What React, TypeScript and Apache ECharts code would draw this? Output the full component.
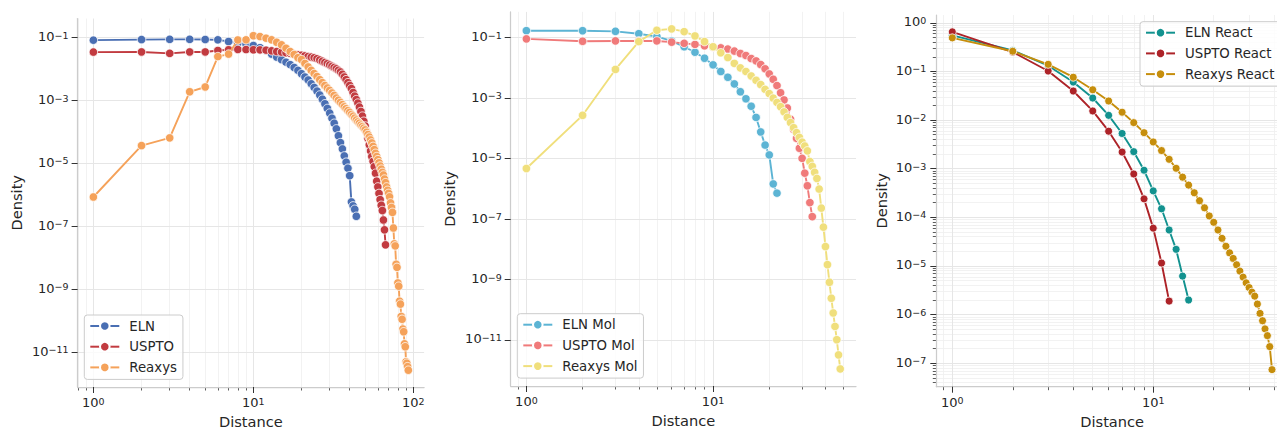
import React, { useEffect, useRef } from "react";
import * as echarts from "echarts";

const FONT = "DejaVu Sans";
const TXT = "#262626";
const SPINE = "#cccccc";
const TICK = "#333333";
const GRID_MAJ = "#e6e6e6";
const GRID_MIN = "#efefef";

// distances (x values) shared by all series: each series uses its first n entries
const DISTANCE = [
  1, 2, 3, 4, 5, 6, 7, 8, 9, 10, 11, 12, 13, 14, 15, 16, 17, 18, 19, 20,
  21, 22, 23, 24, 25, 26, 27, 28, 29, 30, 31, 32, 33, 34, 35, 36, 37, 38, 39, 40,
  41, 42, 43, 44, 45, 46, 47, 48, 49, 50, 51, 52, 53, 54, 55, 56, 57, 58, 59, 60,
  61, 62, 63, 64, 65, 66, 67, 68, 69, 70, 71, 72, 73, 74, 75, 76, 77, 78, 79, 80,
  81, 82, 83, 84, 85, 86, 87, 88, 89, 90, 91, 92, 93,
];

// ---- Panel 1 ----
const ELN = [
  0.083, 0.0865, 0.088, 0.088, 0.087, 0.085, 0.075, 0.067, 0.062, 0.056,
  0.048, 0.039, 0.030, 0.024, 0.020, 0.0166, 0.0138, 0.0112, 0.0091, 0.0071,
  0.0056, 0.0045, 0.0034, 0.0026, 0.0020, 0.0015, 0.0011, 7.9e-4, 5.6e-4, 4.0e-4,
  2.75e-4, 1.9e-4, 1.26e-4, 7.6e-5, 4.6e-5, 2.9e-5, 1.74e-5, 1.1e-5, 7.1e-6, 4.1e-6,
  6.0e-7, 4.5e-7, 3.5e-7, 2.1e-7,
];
const USPTO = [
  0.0347, 0.035, 0.0316, 0.035, 0.035, 0.039, 0.041, 0.042, 0.0417, 0.041,
  0.0407, 0.040, 0.038, 0.036, 0.0347, 0.033, 0.0316, 0.030, 0.0288, 0.0275,
  0.0263, 0.0251, 0.024, 0.0229, 0.0214, 0.0195, 0.0178, 0.0162, 0.0148, 0.0135,
  0.0123, 0.0112, 0.0102, 0.0091, 0.0081, 0.0068, 0.0056, 0.0046, 0.0037, 0.0030,
  0.0024, 0.0018, 0.00138, 0.00107, 8.3e-4, 6.2e-4, 4.5e-4, 3.2e-4, 2.2e-4, 1.55e-4,
  1.02e-4, 6.3e-5, 3.9e-5, 2.5e-5, 1.66e-5, 1.17e-5, 7.9e-6, 4.9e-6, 2.75e-6, 1.8e-6,
  1.12e-6, 7.1e-7, 4.7e-7, 3.2e-7, 1.6e-7, 7.8e-8, 2.6e-8,
];
const REAXYS = [
  8.6e-7, 3.7e-5, 6.5e-5, 0.0019, 0.0027, 0.025, 0.030, 0.084, 0.085, 0.115,
  0.108, 0.096, 0.085, 0.071, 0.059, 0.046, 0.036, 0.029, 0.023, 0.020,
  0.0151, 0.0117, 0.0091, 0.0072, 0.0058, 0.0046, 0.0037, 0.0030, 0.0025, 0.0021,
  0.00174, 0.00145, 0.0012, 0.00102, 8.7e-4, 7.4e-4, 6.3e-4, 5.5e-4, 4.8e-4, 4.2e-4,
  3.6e-4, 3.2e-4, 2.75e-4, 2.4e-4, 2.1e-4, 1.9e-4, 1.66e-4, 1.48e-4, 1.32e-4, 1.17e-4,
  9.8e-5, 8.3e-5, 6.9e-5, 5.6e-5, 4.5e-5, 3.5e-5, 2.75e-5, 2.1e-5, 1.66e-5, 1.32e-5,
  1.05e-5, 8.3e-6, 6.6e-6, 5.2e-6, 4.3e-6, 3.2e-6, 2.45e-6, 1.8e-6, 1.4e-6, 1.12e-6,
  8.7e-7, 5.6e-7, 4.0e-7, 2.8e-7, 8.9e-8, 2.8e-8, 2.4e-8, 6.3e-9, 5.0e-9, 1.6e-9,
  1.26e-9, 4.2e-10, 3.4e-10, 1.38e-10, 1.12e-10, 5.5e-11, 4.5e-11, 1.86e-11, 1.5e-11, 5.0e-12,
  4.5e-12, 3.5e-12, 2.7e-12,
];

// ---- Panel 2 ----
const ELN_MOL = [
  0.17, 0.17, 0.162, 0.135, 0.108, 0.078, 0.050, 0.033, 0.0209, 0.0126,
  0.0076, 0.0049, 0.00295, 0.00162, 9.5e-4, 5.4e-4, 2.3e-4, 7.6e-5, 2.8e-5, 1.32e-5,
  1.45e-6, 7.2e-7,
];
const USPTO_MOL = [
  0.091, 0.076, 0.078, 0.078, 0.078, 0.071, 0.065, 0.060, 0.054, 0.049,
  0.046, 0.042, 0.036, 0.030, 0.0257, 0.0204, 0.017, 0.0129, 0.0093, 0.0063,
  0.0042, 0.0026, 0.0015, 8.7e-4, 4.7e-4, 2.0e-4, 9.3e-5, 4.7e-5, 2.2e-5, 1.02e-5,
  3.3e-6, 1.26e-6, 3.5e-7, 1.2e-7,
];
const REAXYS_MOL = [
  4.7e-6, 2.7e-4, 0.0089, 0.074, 0.176, 0.195, 0.158, 0.114, 0.074, 0.050,
  0.0316, 0.022, 0.0141, 0.0100, 0.0076, 0.0054, 0.0039, 0.0028, 0.00195, 0.00141,
  0.00100, 7.2e-4, 5.2e-4, 3.5e-4, 2.3e-4, 1.55e-4, 1.05e-4, 7.2e-5, 5.0e-5, 3.5e-5,
  2.6e-5, 1.8e-5, 8.0e-6, 5.5e-6, 3.5e-6, 2.2e-6, 9.8e-7, 2.3e-7, 5.4e-8, 1.23e-8,
  3.1e-9, 8.1e-10, 2.4e-10, 7.8e-11, 2.8e-11, 1.02e-11, 3.2e-12, 1.1e-12,
];

// ---- Panel 3 ----
const ELN_REACT = [
  0.55, 0.27, 0.131, 0.0605, 0.0284, 0.0125, 0.0053, 0.00224, 9.3e-4, 3.5e-4,
  1.5e-4, 5.5e-5, 2.2e-5, 6.2e-6, 2.0e-6,
];
const USPTO_REACT = [
  0.65, 0.25, 0.102, 0.0396, 0.0154, 0.0059, 0.0022, 7.8e-4, 2.4e-4, 6.0e-5,
  1.15e-5, 1.9e-6,
];
const REAXYS_REACT = [
  0.49, 0.26, 0.14, 0.076, 0.042, 0.0247, 0.0145, 0.00885, 0.0055, 0.00355,
  0.00236, 0.00156, 0.00102, 6.7e-4, 4.6e-4, 3.2e-4, 2.2e-4, 1.57e-4, 1.07e-4, 7.9e-5,
  5.5e-5, 3.7e-5, 2.55e-5, 1.86e-5, 1.43e-5, 1.06e-5, 7.85e-6, 5.9e-6, 4.5e-6, 3.6e-6,
  2.9e-6, 2.4e-6, 1.65e-6, 1.06e-6, 7.5e-7, 5.1e-7, 3.7e-7, 2.2e-7, 7.4e-8,
];

// ---- tick values ----
const P1_X_MAJOR = [1, 10, 100];
const P1_X_MINOR = [0.8, 0.9, 2, 3, 4, 5, 6, 7, 8, 9, 20, 30, 40, 50, 60, 70, 80, 90];
const P2_X_MAJOR = [1, 10];
const P2_X_MINOR = [0.9, 2, 3, 4, 5, 6, 7, 8, 9, 20, 30, 40, 50];
const P3_X_MAJOR = [1, 10];
const P3_X_MINOR = [0.9, 2, 3, 4, 5, 6, 7, 8, 9, 20, 30, 40];
const Y_MAJOR_ODD = [1e-1, 1e-3, 1e-5, 1e-7, 1e-9, 1e-11];
const P3_Y_MAJOR = [1, 1e-1, 1e-2, 1e-3, 1e-4, 1e-5, 1e-6, 1e-7];
const P3_Y_MINOR_EXP = [-8, -7, -6, -5, -4, -3, -2, -1, 0];

function minorLogTicks(exps: number[], lo: number, hi: number): number[] {
  const out: number[] = [];
  exps.forEach((e) => {
    for (let k = 2; k <= 9; k++) {
      const v = Number((k * Math.pow(10, e)).toPrecision(3));
      if (v >= lo && v <= hi) out.push(v);
    }
  });
  return out;
}

function sup(v: number): string {
  const e = Math.round(Math.log10(v));
  const t = e < 0 ? "\u2212" + String(-e) : String(e);
  return "{b|10}{s|" + t + "}";
}

const RICH = {
  b: { fontFamily: FONT, fontSize: 13, color: TXT, lineHeight: 15, verticalAlign: "top" },
  s: { fontFamily: FONT, fontSize: 9.5, color: TXT, lineHeight: 8, verticalAlign: "top" },
};

type S = { name: string; vals: number[]; color: string };
type Panel = {
  left: number; top: number; width: number; height: number;
  xMin: number; xMax: number; yMin: number; yMax: number;
  xMajor: number[]; xMinor: number[]; yMajor: number[]; yMinor: number[];
  yNameGap: number; yLabelMargin: number; symbolSize: number;
  legendLeft: number; legendTop: number;
  series: S[];
};

const PANELS: Panel[] = [
  {
    left: 77.6, top: 18.5, width: 346.5, height: 368.5,
    xMin: 0.797, xMax: 116.7, yMin: 7.9e-13, yMax: 0.405,
    xMajor: P1_X_MAJOR, xMinor: P1_X_MINOR, yMajor: Y_MAJOR_ODD, yMinor: [],
    yNameGap: 54, yLabelMargin: 9, symbolSize: 8.5,
    legendLeft: 84.3, legendTop: 315,
    series: [
      { name: "ELN", vals: ELN, color: "#4a6fb3" },
      { name: "USPTO", vals: USPTO, color: "#c23b40" },
      { name: "Reaxys", vals: REAXYS, color: "#f5a25a" },
    ],
  },
  {
    left: 510.7, top: 11.9, width: 345.3, height: 374.1,
    xMin: 0.824, xMax: 58.3, yMin: 3.0e-13, yMax: 0.712,
    xMajor: P2_X_MAJOR, xMinor: P2_X_MINOR, yMajor: Y_MAJOR_ODD, yMinor: [],
    yNameGap: 54, yLabelMargin: 9, symbolSize: 8.5,
    legendLeft: 517.3, legendTop: 313.7,
    series: [
      { name: "ELN Mol", vals: ELN_MOL, color: "#5cb4d4" },
      { name: "USPTO Mol", vals: USPTO_MOL, color: "#f07a7a" },
      { name: "Reaxys Mol", vals: REAXYS_MOL, color: "#f0df7c" },
    ],
  },
  {
    left: 936.3, top: 15, width: 351.7, height: 371.7,
    xMin: 0.8326, xMax: 46.85, yMin: 3.3e-8, yMax: 1.445,
    xMajor: P3_X_MAJOR, xMinor: P3_X_MINOR, yMajor: P3_Y_MAJOR,
    yMinor: minorLogTicks(P3_Y_MINOR_EXP, 3.3e-8, 1.445),
    yNameGap: 47, yLabelMargin: 10, symbolSize: 8,
    legendLeft: 1140, legendTop: 21.7,
    series: [
      { name: "ELN React", vals: ELN_REACT, color: "#12928f" },
      { name: "USPTO React", vals: USPTO_REACT, color: "#ad2328" },
      { name: "Reaxys React", vals: REAXYS_REACT, color: "#c68e0c" },
    ],
  },
];

function buildOption() {
  const grid: any[] = [];
  const xAxis: any[] = [];
  const yAxis: any[] = [];
  const series: any[] = [];
  const legend: any[] = [];
  const nameStyle = { fontFamily: FONT, fontSize: 14.6, color: TXT, lineHeight: 15 };

  PANELS.forEach((p, gi) => {
    grid.push({
      left: p.left, top: p.top, width: p.width, height: p.height,
      containLabel: false, outerBoundsMode: "none", show: false,
    });
    const xi = xAxis.length;
    xAxis.push({
      type: "log", logBase: 10, gridIndex: gi, min: p.xMin, max: p.xMax, position: "bottom",
      name: "Distance", nameLocation: "middle", nameGap: 27, nameMoveOverlap: false,
      nameTextStyle: nameStyle,
      axisLine: { show: true, onZero: false, lineStyle: { color: SPINE, width: 1.25 } },
      axisTick: { show: true, length: 6, customValues: p.xMajor, lineStyle: { color: TICK, width: 1 } },
      axisLabel: { show: true, customValues: p.xMajor, margin: 9, formatter: sup, rich: RICH },
      splitLine: { show: true, lineStyle: { color: GRID_MAJ, width: 1 } },
      minorTick: { show: false }, minorSplitLine: { show: false },
      z: 1,
    });
    xAxis.push({
      type: "log", logBase: 10, gridIndex: gi, min: p.xMin, max: p.xMax, position: "bottom",
      axisLine: { show: false },
      axisTick: { show: true, length: 3.5, customValues: p.xMinor, lineStyle: { color: TICK, width: 0.8 } },
      axisLabel: { show: false },
      splitLine: { show: true, lineStyle: { color: GRID_MIN, width: 0.8 } },
      z: 0,
    });
    const yi = yAxis.length;
    yAxis.push({
      type: "log", logBase: 10, gridIndex: gi, min: p.yMin, max: p.yMax, position: "left",
      name: "Density", nameLocation: "middle", nameGap: p.yNameGap, nameMoveOverlap: false,
      nameTextStyle: nameStyle,
      axisLine: { show: true, onZero: false, lineStyle: { color: SPINE, width: 1.25 } },
      axisTick: { show: true, length: 6, customValues: p.yMajor, lineStyle: { color: TICK, width: 1 } },
      axisLabel: { show: true, customValues: p.yMajor, margin: p.yLabelMargin, formatter: sup, rich: RICH },
      splitLine: { show: true, lineStyle: { color: GRID_MAJ, width: 1 } },
      minorTick: { show: false }, minorSplitLine: { show: false },
      z: 1,
    });
    if (p.yMinor.length) {
      yAxis.push({
        type: "log", logBase: 10, gridIndex: gi, min: p.yMin, max: p.yMax, position: "left",
        axisLine: { show: false },
        axisTick: { show: true, length: 3.5, customValues: p.yMinor, lineStyle: { color: TICK, width: 0.8 } },
        axisLabel: { show: false },
        splitLine: { show: true, lineStyle: { color: GRID_MIN, width: 0.8 } },
        z: 0,
      });
    }
    p.series.forEach((s, si) => {
      series.push({
        type: "line", name: s.name, xAxisIndex: xi, yAxisIndex: yi,
        data: s.vals.map((v, k) => [DISTANCE[k], v]),
        symbol: "circle", symbolSize: p.symbolSize, showSymbol: true,
        lineStyle: { color: s.color, width: 1.9 },
        itemStyle: { color: s.color, borderColor: "#ffffff", borderWidth: 0.8 },
        emphasis: { disabled: true }, silent: true, z: 3 + si,
      });
    });
    legend.push({
      show: true, orient: "vertical", left: p.legendLeft, top: p.legendTop,
      data: p.series.map((s) => s.name),
      itemWidth: 29, itemHeight: 12, itemGap: 4.7,
      padding: [3, 6, 4, 5],
      backgroundColor: "rgba(255,255,255,0.8)", borderColor: "#cccccc", borderWidth: 1, borderRadius: 3,
      textStyle: { fontFamily: FONT, fontSize: 13.3, color: TXT, lineHeight: 16, padding: [0, 0, 0, 5] },
      selectedMode: false,
    });
  });

  return {
    animation: false,
    backgroundColor: "#ffffff",
    textStyle: { fontFamily: FONT },
    grid, xAxis, yAxis, series, legend,
  };
}

export default function App() {
  const ref = useRef<HTMLDivElement>(null);
  useEffect(() => {
    if (!ref.current) return;
    const chart = echarts.init(ref.current, undefined, { renderer: "svg" });
    chart.setOption(buildOption() as any);
    return () => chart.dispose();
  }, []);
  return (
    <div
      ref={ref}
      style={{ position: "fixed", left: 0, top: 0, width: 1277, height: 430, background: "#fff" }}
    />
  );
}
